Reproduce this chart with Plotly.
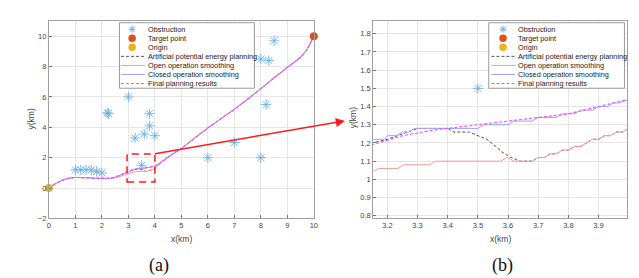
import plotly.graph_objects as go

W, H = 639, 278

# ---------------- data ----------------
obs_x = [1.0, 1.2, 1.4, 1.6, 1.8, 2.0, 2.2, 2.25, 3.0, 3.25, 3.6, 3.8, 3.8, 4.0, 3.5, 6.0, 7.0, 8.0, 8.2, 8.0, 8.3, 8.5]
obs_y = [1.2, 1.2, 1.2, 1.2, 1.1, 1.0, 4.95, 4.9, 6.0, 3.3, 3.55, 4.1, 4.9, 3.45, 1.5, 2.0, 3.0, 2.0, 5.5, 8.5, 8.4, 9.7]
target_x = [10]
target_y = [10]
origin_x = [0]
origin_y = [0]

pre_x = [0, 0.25, 0.5, 0.75, 1.0, 1.25, 1.5, 1.75, 2.0, 2.25, 2.5, 2.75, 3.0]
upper_pre_y = [0, 0.3, 0.52, 0.65, 0.7, 0.7, 0.68, 0.64, 0.62, 0.64, 0.72, 0.88, 1.08]
lower_pre_y = [0, 0.3, 0.52, 0.65, 0.7, 0.7, 0.68, 0.64, 0.61, 0.62, 0.67, 0.8, 0.96]

post_x = [4.25, 4.5, 4.75, 5.0, 5.5, 6.0, 6.5, 7.0, 7.5, 8.0, 8.5, 9.0, 9.5, 9.75, 10.0]
post_y = [1.72, 2.05, 2.35, 2.6, 3.3, 3.97, 4.58, 5.18, 5.85, 6.55, 7.28, 7.95, 8.6, 9.15, 10.0]

# detail in 3.15 .. 4.0
apf_mid_x = [3.15, 3.2, 3.25, 3.28, 3.30, 3.40, 3.42, 3.47, 3.50, 3.53, 3.56, 3.58, 3.61, 3.64, 3.68]
apf_mid_y = [1.20, 1.22, 1.25, 1.27, 1.28, 1.28, 1.26, 1.26, 1.24, 1.22, 1.18, 1.15, 1.12, 1.10, 1.10]

open_mid_x = [3.15, 3.17, 3.235, 3.255, 3.34, 3.36, 3.575, 3.597, 3.62, 3.68, 3.70, 3.72, 3.74, 3.76,
              3.78, 3.80, 3.82, 3.84, 3.87, 3.88, 3.90, 3.92, 3.94, 3.96, 3.98, 4.0]
open_mid_y = [1.04, 1.06, 1.06, 1.08, 1.08, 1.10, 1.10, 1.12, 1.10, 1.10, 1.12, 1.12, 1.14, 1.14,
              1.16, 1.16, 1.18, 1.18, 1.21, 1.22, 1.22, 1.24, 1.24, 1.26, 1.26, 1.28]

closed_mid_x = [3.15, 3.19, 3.20, 3.23, 3.25, 3.27, 3.29, 3.50, 3.52, 3.60, 3.62, 3.68, 3.70, 3.76,
                3.78, 3.82, 3.84, 3.88, 3.90, 3.93, 3.95, 3.97, 4.00]
closed_mid_y = [1.22, 1.22, 1.24, 1.24, 1.26, 1.26, 1.28, 1.28, 1.30, 1.30, 1.32, 1.32, 1.34, 1.34,
                1.36, 1.36, 1.38, 1.38, 1.40, 1.40, 1.42, 1.42, 1.44]

final_mid_x = [3.15, 3.2, 3.25, 3.3, 3.35, 3.4, 3.45, 3.5, 3.55, 3.6, 3.65, 3.7, 3.75, 3.8, 3.85, 3.9, 3.95, 4.0]
final_mid_y = [1.19, 1.215, 1.24, 1.255, 1.27, 1.28, 1.29, 1.30, 1.31, 1.32, 1.33, 1.34, 1.35, 1.36, 1.38, 1.40, 1.42, 1.44]

open_join_x = [4.1]
open_join_y = [1.45]

zoom_box_x = [2.95, 4.0]
zoom_box_y = [0.4, 2.25]

legend_names = ["Obstruction", "Target point", "Origin", "Artificial potential energy planning",
                "Open operation smoothing", "Closed operation smoothing", "Final planning results"]

# ---------------- styles ----------------
C_OBS = "#6ab0e4"
C_TGT = "#d95319"
C_ORG = "#edb120"
C_APF = "#555555"
C_OPEN = "#f79a9a"
C_CLOSED = "#a0a0ff"
C_FINAL = "#ff44ff"

# series assembly
open_tail = [x for x in open_mid_x if x > 3.68]
apf_x = pre_x + apf_mid_x + open_tail + open_join_x + post_x
apf_y = upper_pre_y + apf_mid_y + open_mid_y[len(open_mid_x) - len(open_tail):] + open_join_y + post_y
open_x = pre_x + open_mid_x + open_join_x + post_x
open_y = lower_pre_y + open_mid_y + open_join_y + post_y
closed_x = pre_x + closed_mid_x + post_x
closed_y = upper_pre_y + closed_mid_y + post_y
final_x = pre_x + final_mid_x + post_x
final_y = upper_pre_y + final_mid_y + post_y

fig = go.Figure()

for xa, ya in (("x", "y"), ("x2", "y2")):
    fig.add_trace(go.Scatter(x=apf_x, y=apf_y, mode="lines", xaxis=xa, yaxis=ya, showlegend=False,
                             line=dict(color=C_APF, width=1, dash="3px,2px")))
    fig.add_trace(go.Scatter(x=open_x, y=open_y, mode="lines", xaxis=xa, yaxis=ya, showlegend=False,
                             line=dict(color=C_OPEN, width=1)))
    fig.add_trace(go.Scatter(x=closed_x, y=closed_y, mode="lines", xaxis=xa, yaxis=ya, showlegend=False,
                             line=dict(color=C_CLOSED, width=1)))
    fig.add_trace(go.Scatter(x=final_x, y=final_y, mode="lines", xaxis=xa, yaxis=ya, showlegend=False,
                             line=dict(color=C_FINAL, width=1.1, dash="3px,2px")))
    fig.add_trace(go.Scatter(x=obs_x, y=obs_y, mode="markers", xaxis=xa, yaxis=ya, showlegend=False,
                             marker=dict(symbol="asterisk-open", size=8.5, color=C_OBS,
                                         line=dict(color=C_OBS, width=0.9))))
    fig.add_trace(go.Scatter(x=target_x, y=target_y, mode="markers", xaxis=xa, yaxis=ya, showlegend=False,
                             cliponaxis=False, marker=dict(symbol="circle", size=8, color=C_TGT)))
    fig.add_trace(go.Scatter(x=origin_x, y=origin_y, mode="markers", xaxis=xa, yaxis=ya, showlegend=False,
                             cliponaxis=False, marker=dict(symbol="circle", size=8, color=C_ORG)))

GRID = "#e6e6e6"
LINE = "#a0a0a0"
TF = dict(family="Liberation Sans, Arial", size=7.5, color="#444444")
ax_common = dict(showgrid=True, gridcolor=GRID, gridwidth=1, showline=True, mirror=True, linecolor=LINE,
                 linewidth=1, ticks="inside", ticklen=3, tickcolor="#777777", zeroline=False, tickfont=TF)

ydom = [1 - 214.3 / H, 1 - 13.3 / H]
fig.update_layout(
    width=W, height=H, autosize=False,
    margin=dict(l=0, r=0, t=0, b=0),
    paper_bgcolor="white", plot_bgcolor="white",
    showlegend=False,
    xaxis=dict(domain=[39.3 / W, 306.7 / W], range=[0, 10], tick0=0, dtick=1, anchor="y", **ax_common),
    yaxis=dict(domain=ydom, range=[-2, 11], tick0=-2, dtick=2, anchor="x", **ax_common),
    xaxis2=dict(domain=[366.7 / W, 623.3 / W], range=[3.153, 3.996], tick0=3.2, dtick=0.1, anchor="y2", **ax_common),
    yaxis2=dict(domain=ydom, range=[0.785, 1.87], tick0=0.8, dtick=0.1, anchor="x2", **ax_common),
)

shapes = []
annots = []

# zoom rectangle
shapes.append(dict(type="rect", xref="x", yref="y", x0=zoom_box_x[0], x1=zoom_box_x[1],
                   y0=zoom_box_y[0], y1=zoom_box_y[1], line=dict(color="#ff1a1a", width=1.5, dash="7px,5px")))

# arrow from rectangle corner to right plot
annots.append(dict(x=338 / W, y=1 - 115 / H, xref="paper", yref="paper", ax=-191.3, ay=33,
                   text="", showarrow=True, arrowhead=2, arrowsize=1.2, arrowwidth=1.5, arrowcolor="#ff1a1a"))


def P(x, y):
    return x / W, 1 - y / H


def legend(box_x0, box_x1, line_x0, line_x1, mark_cx, text_x):
    bx0, by0 = P(box_x0, 15)
    bx1, by1 = P(box_x1, 81.7)
    shapes.append(dict(type="rect", xref="paper", yref="paper", x0=bx0, x1=bx1, y0=by1, y1=by0,
                       fillcolor="white", line=dict(color="#9a9a9a", width=1), layer="above"))
    rows = [21.6 + 9.22 * i for i in range(7)]
    # obstruction star
    cx, cy = mark_cx, rows[0]
    r = 3.5
    segs = []
    for dx, dy in ((r, 0), (0, r), (r * 0.72, r * 0.72), (r * 0.72, -r * 0.72)):
        a = P(cx - dx, cy - dy)
        b = P(cx + dx, cy + dy)
        segs.append(f"M{a[0]},{a[1]} L{b[0]},{b[1]}")
    shapes.append(dict(type="path", xref="paper", yref="paper", path=" ".join(segs),
                       line=dict(color=C_OBS, width=1), layer="above"))
    for i, col in ((1, C_TGT), (2, C_ORG)):
        a = P(mark_cx - 3.8, rows[i] - 3.8)
        b = P(mark_cx + 3.8, rows[i] + 3.8)
        shapes.append(dict(type="circle", xref="paper", yref="paper", x0=a[0], x1=b[0], y0=b[1], y1=a[1],
                           fillcolor=col, line=dict(color=col, width=0), layer="above"))
    for i, col, dash in ((3, C_APF, "3px,2px"), (4, C_OPEN, "solid"), (5, C_CLOSED, "solid"), (6, C_FINAL, "3px,2px")):
        a = P(line_x0, rows[i])
        b = P(line_x1, rows[i])
        shapes.append(dict(type="line", xref="paper", yref="paper", x0=a[0], x1=b[0], y0=a[1], y1=b[1],
                           line=dict(color=col, width=1, dash=dash), layer="above"))
    for i, name in enumerate(legend_names):
        tx, ty = P(text_x, rows[i])
        annots.append(dict(x=tx, y=ty, xref="paper", yref="paper", text=name, showarrow=False,
                           xanchor="left", yanchor="middle", font=dict(family="Liberation Sans, Arial", size=7.3, color="#222222")))


legend(110.5, 246.7, 112, 136, 123.3, 137.2)
legend(483.3, 620.3, 486, 510, 497.7, 511.2)

# axis titles
AT = dict(family="Liberation Sans, Arial", size=8.5, color="#444444")
for (x, y, t, rot) in ((172.7, 235, "x(km)", 0), (20.7, 113, "y(km)", -90),
                       (494.7, 235, "x(km)", 0), (346.5, 112, "y(km)", -90)):
    px, py = P(x, y)
    annots.append(dict(x=px, y=py, xref="paper", yref="paper", text=t, showarrow=False, textangle=rot,
                       xanchor="center", yanchor="middle", font=AT))

# captions
CF = dict(family="Liberation Serif, Times New Roman", size=18, color="#111111")
for (x, t) in ((150, "(a)"), (496.7, "(b)")):
    px, py = P(x, 262.7)
    annots.append(dict(x=px, y=py, xref="paper", yref="paper", text=t, showarrow=False,
                       xanchor="center", yanchor="middle", font=CF))

fig.update_layout(shapes=shapes, annotations=annots)
fig.write_html("out.html")
